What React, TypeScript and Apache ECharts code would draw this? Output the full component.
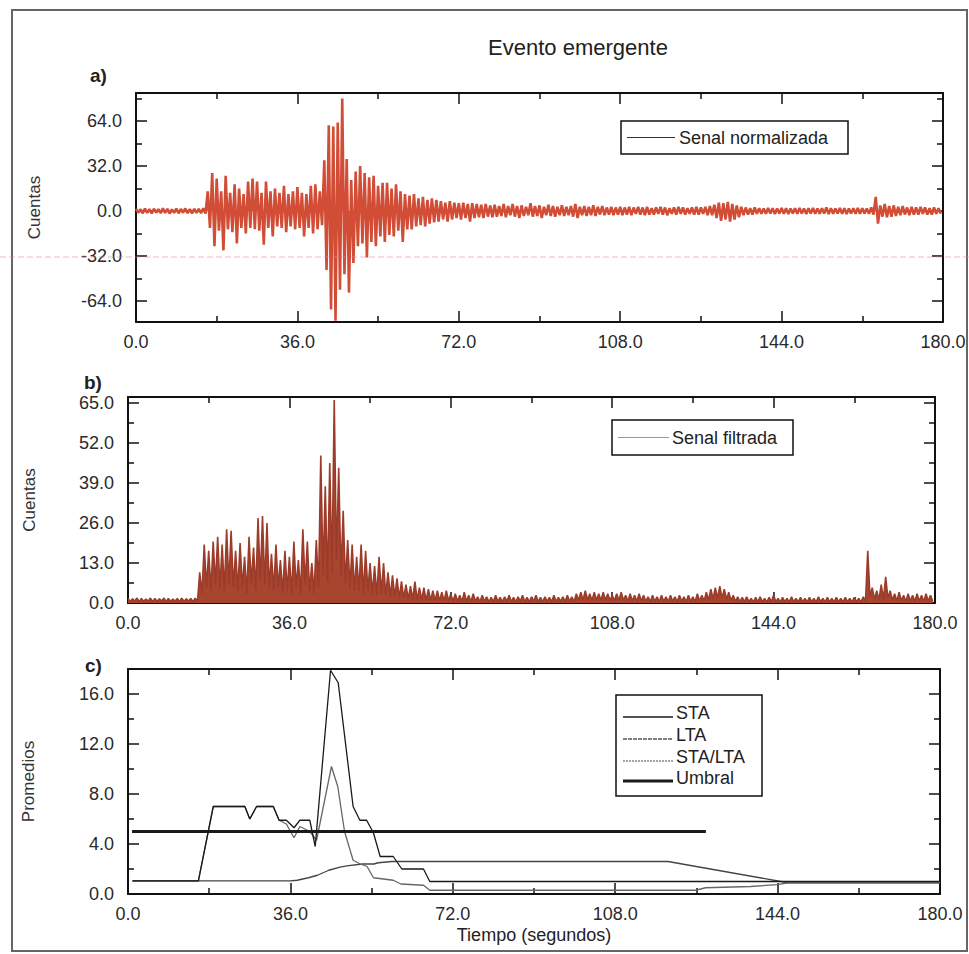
import React, { useEffect, useRef } from "react";
import * as echarts from "echarts";

const FONT = "'Liberation Sans', Arial, Helvetica, sans-serif";

// ---- tick values ----
const X_TICKS = [0, 36, 72, 108, 144, 180];
const X_MINOR = [18, 54, 90, 126, 162];
const A_Y_TICKS = [-64, -32, 0, 32, 64];
const A_Y_MINOR = [-48, -16, 16, 48, 80];
const B_Y_TICKS = [0, 13, 26, 39, 52, 65];
const B_Y_MINOR = [6.5, 19.5, 32.5, 45.5, 58.5];
const C_Y_TICKS = [0, 4, 8, 12, 16];
const C_Y_MINOR = [2, 6, 10, 14];

// ---- panel a: normalized signal, positive / negative peaks per second (t = 0..179) ----
const SIG_A_UP = [
  1.5, 1.2, 1.8, 1.4, 1.6, 1.3, 1.9, 1.5, 1.2, 1.7, 1.4, 1.8, 1.3, 1.6, 1.5, 2.0,
  14, 27, 23, 14, 25, 13, 19, 16, 12, 21, 23, 21, 13, 21, 14, 16, 13, 18, 12, 14, 17, 13, 12, 18, 19, 14,
  36, 61, 60, 63, 80, 37, 22, 28, 32, 27, 24, 25, 18, 20, 20, 16, 19, 14, 12, 11, 12, 9, 10, 8, 9, 8, 7, 6, 7, 6, 5.5, 6, 5, 5.5, 5, 4.5, 5, 4,
  4.5, 3.5, 5, 3.5, 5, 3.5, 4, 3, 5.5, 3.5, 4, 3, 4.5, 3.5, 3, 4, 3, 3.5, 5, 3,
  3.5, 3, 4, 3, 3.5, 2.5, 3, 2.5, 3, 2.5, 3, 2.5, 3, 2.5, 3, 2, 2.5, 3, 2.5, 2,
  2.5, 3, 2.5, 2, 2.5, 3, 2.5, 3, 3.5, 4.5, 6, 5.5, 6.5, 5, 4, 3, 2.5, 2, 2.5, 2,
  1.8, 2.2, 2, 1.8, 2.2, 2, 1.8, 2, 2.2, 1.8, 2, 2.2, 1.8, 2, 2.5, 2, 1.8, 2.2, 2, 1.8,
  2, 2.2, 2, 1.8, 2.5, 10, 4, 5, 3.5, 4, 3, 3.5, 2.5, 3, 2.5, 3, 2.5, 2, 2.5, 2,
];
const SIG_A_LOW = [
  -1.2, -1.6, -1.3, -1.7, -1.2, -1.5, -1.4, -1.8, -1.3, -1.6, -1.2, -1.5, -1.7, -1.3, -1.6, -1.8,
  -12, -25, -14, -28, -13, -15, -23, -12, -16, -12, -13, -14, -24, -12, -18, -11, -12, -15, -11, -13, -12, -18, -12, -16, -13, -10,
  -42, -70, -78, -56, -45, -58, -37, -25, -23, -33, -22, -25, -18, -22, -17, -18, -14, -22, -13, -13, -11, -10, -11, -9, -8, -7.5, -6, -7.5, -6, -5, -6, -5, -7.5, -5, -4.5, -5, -4, -4.5,
  -4, -3.5, -4.5, -3, -4, -5, -3.5, -3, -4, -3.5, -5, -3, -3.5, -4, -3, -3.5, -3, -4, -5, -3,
  -3.5, -3, -3.5, -2.5, -3, -2.5, -3, -2.5, -3, -2.5, -3, -2, -2.5, -3, -2.5, -2.5, -2, -2.5, -3, -2,
  -2.5, -2, -2.5, -2, -2.5, -2.5, -2, -3, -3, -5, -7, -6, -7.5, -6, -4.5, -3, -2.5, -2.5, -2, -2,
  -2, -1.8, -2.2, -1.8, -2, -2.2, -1.8, -2, -1.8, -2.2, -1.8, -2, -2, -1.8, -2.2, -2, -1.8, -2, -2.2, -1.8,
  -2, -2, -1.8, -2, -2.5, -9, -4, -4.5, -4, -3.5, -3, -2.5, -3, -2.5, -2.5, -2, -2.5, -2.5, -2, -2,
];

// ---- panel b: filtered signal, peaks and troughs per second (t = 0..179) ----
const SIG_B_PEAK = [
  1.5, 1.4, 1.6, 1.5, 1.3, 1.6, 1.5, 1.4, 1.6, 1.5, 1.3, 1.5, 1.6, 1.4, 1.5, 1.6,
  10, 19, 17, 20, 21.5, 19, 24, 23.5, 17, 19.5, 15, 21.5, 18, 27.6, 28.3, 26, 16, 19, 14, 17, 15, 20, 14, 24, 20, 13,
  20.5, 48, 38, 45.5, 66, 44, 30, 20.5, 19, 15, 19, 17, 13, 12, 15, 13, 10, 9, 8, 7, 6, 5.5, 7, 5, 5, 4.5, 4, 4, 3.5, 4, 3,
  3, 2.5, 3.5, 2.5, 3, 2, 2.5, 2, 1.8, 2.5, 1.8, 2, 2.5, 1.8, 2, 2.5, 1.8, 2, 2.5, 1.8, 2, 1.8, 2.5, 1.8, 2, 2.5, 2,
  3, 3.5, 4, 3, 3.5, 3, 3.5, 3, 2.5, 3, 3.5, 2.5, 3, 2.5, 3, 2.5, 2, 2.5, 2, 2.5, 2, 2.5, 2, 2.5, 2, 2.5, 2, 3,
  2.5, 3.5, 4.5, 5, 5.5, 4.5, 3.5, 2.5, 2, 1.8, 2, 1.5, 1.8, 2, 1.5, 1.8, 2.5, 1.5, 1.8, 1.5, 2, 1.5, 1.8, 1.5,
  1.8, 1.5, 2, 1.5, 1.8, 1.5, 1.8, 1.5, 1.8, 1.5, 1.8, 1.5, 2, 17, 5, 4, 6, 8.5, 4, 3, 3.5, 2.5, 3, 2.5, 3, 2.5, 3, 2.5,
];
const SIG_B_LOW = [
  0.5, 0.6, 0.4, 0.5, 0.6, 0.4, 0.5, 0.6, 0.4, 0.5, 0.6, 0.4, 0.5, 0.6, 0.4, 0.5,
  3, 5, 4, 6, 5, 4, 6, 5, 4, 5, 3, 6, 4, 7, 6, 5, 4, 5, 3, 4, 3, 5, 3, 6, 4, 3,
  5, 9, 7, 10, 14, 9, 6, 5, 4, 4, 3, 4, 3, 2.5, 3, 2.5, 2, 2, 1.5, 1.5, 1.2, 1.2, 1, 1, 0.8, 0.8, 0.7, 0.7, 0.6, 0.6, 0.5,
  0.5, 0.4, 0.5, 0.4, 0.5, 0.4, 0.5, 0.4, 0.4, 0.5, 0.4, 0.5, 0.4, 0.4, 0.5, 0.4, 0.4, 0.5, 0.4, 0.4, 0.5, 0.4, 0.4, 0.5, 0.4, 0.5, 0.4,
  0.8, 0.9, 1, 0.8, 0.9, 0.8, 0.9, 0.8, 0.7, 0.8, 0.9, 0.6, 0.6, 0.5, 0.6, 0.5, 0.4, 0.5, 0.4, 0.5, 0.4, 0.5, 0.4, 0.5, 0.4, 0.5, 0.4, 0.6,
  0.6, 0.9, 1.3, 1.5, 1.5, 1.2, 0.8, 0.5, 0.4, 0.4, 0.4, 0.3, 0.4, 0.4, 0.3, 0.4, 0.4, 0.3, 0.4, 0.3, 0.4, 0.3, 0.4, 0.3,
  0.4, 0.3, 0.4, 0.3, 0.4, 0.3, 0.4, 0.3, 0.4, 0.3, 0.4, 0.3, 0.4, 2, 1.2, 1, 1.2, 1.5, 0.8, 0.6, 0.7, 0.5, 0.6, 0.5, 0.6, 0.5, 0.6, 0.5,
];

// ---- panel c: averages ----
const STA_T = [1, 15.6, 18.9, 25.9, 27.0, 28.5, 32.2, 33.5, 35.1, 36.8, 38.1, 40.3, 41.5, 44.9, 46.6, 49.9, 51.4, 52.9, 54.4, 55.9, 58.8, 60.7, 65.5, 66.9, 180];
const STA_V = [1.05, 1.05, 7.0, 7.0, 6.0, 7.0, 7.0, 5.9, 5.9, 5.3, 5.9, 5.9, 3.8, 17.9, 16.9, 7.0, 5.9, 5.9, 4.9, 3.0, 3.0, 2.0, 2.0, 1.0, 1.0];
const LTA_T = [1, 36, 37.5, 40, 42, 44.5, 47, 48.5, 52, 54.5, 55.5, 58.5, 119.7, 146.3, 180];
const LTA_V = [1.05, 1.05, 1.1, 1.3, 1.5, 1.9, 2.15, 2.25, 2.4, 2.4, 2.5, 2.6, 2.6, 0.9, 0.9];
const RATIO_T = [1, 15.6, 18.9, 25.9, 27.0, 28.5, 32.2, 33.5, 35.1, 36.8, 38.1, 40.3, 41.8, 45.1, 46.5, 48.0, 49.9, 51.5, 53.0, 54.4, 58.8, 60.5, 65.5, 66.9, 125.9, 128, 138, 144, 146.3, 180];
const RATIO_V = [1.05, 1.05, 7.0, 7.0, 6.0, 7.0, 7.0, 5.9, 5.6, 4.5, 5.4, 5.0, 4.3, 10.2, 8.6, 5.0, 2.7, 2.4, 2.2, 1.3, 1.1, 0.8, 0.7, 0.3, 0.3, 0.5, 0.6, 0.75, 0.9, 0.9];
const UMBRAL_T = [0.9, 128.1];
const UMBRAL_V = [5.0, 5.0];

const fmt1 = (v: number) => Number(v).toFixed(1);
const AX = "#111";
const LABEL = { fontSize: 18, color: "#2a2a2a", fontFamily: FONT };

function zigzag(up: number[], low: number[]) {
  const out: number[][] = [];
  for (let i = 0; i < up.length; i++) {
    out.push([i, up[i]]);
    out.push([i + 0.5, low[i]]);
  }
  return out;
}
function pairs(t: number[], v: number[]) {
  return t.map((x, i) => [x, v[i]]);
}

function xAxes(grid: number, name?: string) {
  const base: any = { type: "value", gridIndex: grid, min: 0, max: 180, splitLine: { show: false } };
  const major = { show: true, inside: true, length: 11, customValues: X_TICKS, lineStyle: { color: AX, width: 1.5 } };
  const minor = { show: true, inside: true, length: 6, customValues: X_MINOR, lineStyle: { color: AX, width: 1.5 } };
  const line = { show: true, onZero: false, lineStyle: { color: AX, width: 2 } };
  return [
    {
      ...base, position: "bottom", axisLine: line, axisTick: major,
      axisLabel: { show: true, customValues: X_TICKS, formatter: fmt1, margin: 11, ...LABEL },
      name: name || "", nameLocation: "middle", nameGap: 32,
      nameTextStyle: { fontSize: 18, color: "#222", fontFamily: FONT },
    },
    { ...base, position: "bottom", axisLine: { show: false, onZero: false }, axisTick: minor, axisLabel: { show: false } },
    { ...base, position: "top", axisLine: line, axisTick: major, axisLabel: { show: false } },
    { ...base, position: "top", axisLine: { show: false, onZero: false }, axisTick: minor, axisLabel: { show: false } },
  ];
}

function yAxes(grid: number, min: number, max: number, ticks: number[], minorTicks: number[], name: string, gap: number) {
  const base: any = { type: "value", gridIndex: grid, min, max, splitLine: { show: false } };
  const major = { show: true, inside: true, length: 11, customValues: ticks, lineStyle: { color: AX, width: 1.5 } };
  const minor = { show: true, inside: true, length: 6, customValues: minorTicks, lineStyle: { color: AX, width: 1.5 } };
  const line = { show: true, onZero: false, lineStyle: { color: AX, width: 2 } };
  return [
    {
      ...base, position: "left", axisLine: line, axisTick: major,
      axisLabel: { show: true, customValues: ticks, formatter: fmt1, margin: 14, ...LABEL },
      name, nameLocation: "middle", nameGap: gap,
      nameTextStyle: { fontSize: 17, color: "#333", fontFamily: FONT },
    },
    { ...base, position: "left", axisLine: { show: false, onZero: false }, axisTick: minor, axisLabel: { show: false } },
    { ...base, position: "right", axisLine: line, axisTick: major, axisLabel: { show: false } },
    { ...base, position: "right", axisLine: { show: false, onZero: false }, axisTick: minor, axisLabel: { show: false } },
  ];
}

function txt(x: number, y: number, text: string, size: number, opts: any = {}) {
  return {
    type: "text", x, y, z: 100,
    style: {
      text, fontSize: size, fontFamily: FONT, fill: opts.fill || "#222", fontWeight: opts.bold ? "bold" : "normal",
      textAlign: opts.align || "left", align: opts.align || "left",
      textVerticalAlign: "middle", verticalAlign: "middle",
    },
  };
}
function ln(x1: number, y1: number, x2: number, y2: number, stroke: string, w: number, dash?: number[]) {
  return { type: "line", z: 100, shape: { x1, y1, x2, y2 }, style: { stroke, lineWidth: w, lineDash: dash } };
}
function box(x: number, y: number, w: number, h: number) {
  return { type: "rect", z: 99, shape: { x, y, width: w, height: h }, style: { fill: "#fff", stroke: "#111", lineWidth: 1.5 } };
}

export default function App() {
  const ref = useRef<HTMLDivElement>(null);
  useEffect(() => {
    if (!ref.current) return;
    const chart = echarts.init(ref.current, undefined, { renderer: "svg" });
    const option: any = {
      animation: false,
      backgroundColor: "#fff",
      grid: [
        { left: 136, top: 93, width: 807, height: 229, containLabel: false },
        { left: 128, top: 397, width: 807, height: 206, containLabel: false },
        { left: 128, top: 669, width: 812, height: 225, containLabel: false },
      ],
      xAxis: [...xAxes(0), ...xAxes(1), ...xAxes(2, "Tiempo (segundos)")],
      yAxis: [
        ...yAxes(0, -78.9, 83.9, A_Y_TICKS, A_Y_MINOR, "Cuentas", 93),
        ...yAxes(1, 0, 67, B_Y_TICKS, B_Y_MINOR, "Cuentas", 90),
        ...yAxes(2, 0, 18, C_Y_TICKS, C_Y_MINOR, "Promedios", 91),
      ],
      series: [
        {
          name: "Senal normalizada", type: "line", xAxisIndex: 0, yAxisIndex: 0,
          data: zigzag(SIG_A_UP, SIG_A_LOW), symbol: "none",
          lineStyle: { color: "#d24d36", width: 2.6, join: "bevel" },
          areaStyle: { color: "#d9553d", opacity: 1, origin: "auto" },
        },
        {
          name: "Senal filtrada", type: "line", xAxisIndex: 4, yAxisIndex: 4,
          data: zigzag(SIG_B_PEAK, SIG_B_LOW), symbol: "none",
          lineStyle: { color: "#9c3b2a", width: 1.6, join: "bevel" },
          areaStyle: { color: "#a8452f", opacity: 1, origin: "start" },
        },
        {
          name: "LTA", type: "line", xAxisIndex: 8, yAxisIndex: 8, data: pairs(LTA_T, LTA_V),
          symbol: "none", lineStyle: { color: "#444", width: 1.3 },
        },
        {
          name: "STA/LTA", type: "line", xAxisIndex: 8, yAxisIndex: 8, data: pairs(RATIO_T, RATIO_V),
          symbol: "none", lineStyle: { color: "#666", width: 1.3 },
        },
        {
          name: "STA", type: "line", xAxisIndex: 8, yAxisIndex: 8, data: pairs(STA_T, STA_V),
          symbol: "none", lineStyle: { color: "#1a1a1a", width: 1.3 },
        },
        {
          name: "Umbral", type: "line", xAxisIndex: 8, yAxisIndex: 8, data: pairs(UMBRAL_T, UMBRAL_V),
          symbol: "none", lineStyle: { color: "#1a1a1a", width: 3 },
        },
      ],
      graphic: [
        { type: "rect", z: 1, silent: true, shape: { x: 12, y: 10, width: 955, height: 941 }, style: { fill: "none", stroke: "#666", lineWidth: 2 } },
        ln(0, 257, 969, 257, "rgba(230,130,160,0.55)", 1, [6, 3]),
        txt(578, 47, "Evento emergente", 22, { align: "center" }),
        txt(90, 75, "a)", 19, { bold: true }),
        txt(84, 382, "b)", 19, { bold: true }),
        txt(85, 665, "c)", 19, { bold: true }),
        box(621, 121, 227, 33),
        ln(627, 137.5, 675, 137.5, "#333", 1.2),
        txt(679, 138, "Senal normalizada", 18),
        box(612, 420, 181, 35),
        ln(618, 437.5, 669, 437.5, "#999", 1.2),
        txt(672, 438, "Senal filtrada", 18),
        box(616, 695, 146, 101),
        ln(623, 717, 673, 717, "#1a1a1a", 1.3),
        txt(676, 713, "STA", 18),
        ln(623, 739, 673, 739, "#555", 1.3, [4, 1]),
        txt(676, 735, "LTA", 18),
        ln(623, 761, 673, 761, "#888", 1.3, [2, 1]),
        txt(676, 757, "STA/LTA", 18),
        ln(623, 781, 673, 781, "#1a1a1a", 3),
        txt(676, 778, "Umbral", 18),
      ],
    };
    chart.setOption(option);
    return () => chart.dispose();
  }, []);
  return <div ref={ref} style={{ position: "absolute", left: 0, top: 0, width: 969, height: 954 }} />;
}
